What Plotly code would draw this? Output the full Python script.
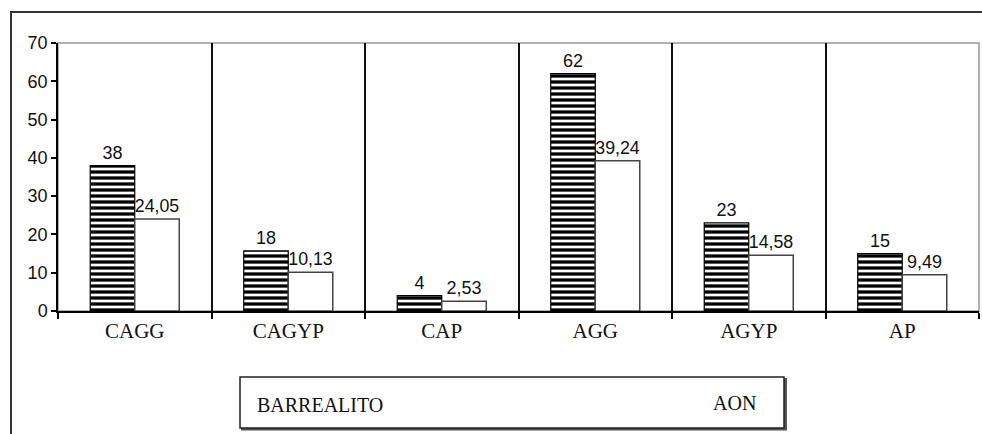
import plotly.graph_objects as go

categories = ["CAGG", "CAGYP", "CAP", "AGG", "AGYP", "AP"]
barrealito_values = [38, 15.7, 4, 62, 23, 15]
barrealito_labels = ["38", "18", "4", "62", "23", "15"]
aon_values = [24.05, 10.13, 2.53, 39.24, 14.58, 9.49]
aon_labels = ["24,05", "10,13", "2,53", "39,24", "14,58", "9,49"]
y_ticks = [0, 10, 20, 30, 40, 50, 60, 70]

W, H = 982, 434
L, R, T, B = 58, 979, 43, 311


def px(x):
    return (x - L) / (R - L)


def py(y):
    return (B - y) / (B - T)


sans = "Liberation Sans"
serif = "Liberation Serif"

fig = go.Figure()
fig.add_trace(go.Bar(
    x=categories, y=barrealito_values, name="BARREALITO",
    text=barrealito_labels, textposition="outside",
    textfont=dict(family=sans, size=18, color="#111"),
    marker=dict(color="white",
                pattern=dict(shape="-", fgcolor="black", bgcolor="white", size=6,
                             solidity=0.55, fgopacity=1),
                line=dict(color="black", width=1.2)),
    cliponaxis=False,
))
fig.add_trace(go.Bar(
    x=categories, y=aon_values, name="AON",
    text=aon_labels, textposition="outside",
    textfont=dict(family=sans, size=18, color="#111"),
    marker=dict(color="white", line=dict(color="#444", width=1.5)),
    cliponaxis=False,
))

shapes = [
    dict(type="rect", xref="paper", yref="paper", x0=0, x1=1, y0=0, y1=1,
         line=dict(color="#999", width=1.5), layer="below"),
    dict(type="rect", xref="paper", yref="paper", x0=px(11), x1=px(990), y0=py(12), y1=py(440),
         line=dict(color="#333", width=2)),
    dict(type="rect", xref="paper", yref="paper", x0=px(242), x1=px(786), y0=py(379), y1=py(429.5),
         line=dict(color="#555", width=2), fillcolor="#555"),
    dict(type="rect", xref="paper", yref="paper", x0=px(240), x1=px(784), y0=py(377), y1=py(428),
         line=dict(color="#222", width=1.5), fillcolor="white"),
]

annotations = [
    dict(text="BARREALITO", xref="paper", yref="paper", x=px(255), y=py(405),
         xanchor="left", yanchor="middle", showarrow=False,
         font=dict(family=serif, size=20, color="#111")),
    dict(text="AON", xref="paper", yref="paper", x=px(734), y=py(403),
         xanchor="center", yanchor="middle", showarrow=False,
         font=dict(family=serif, size=20, color="#111")),
]

fig.update_layout(
    width=W, height=H,
    margin=dict(l=L, r=W - R, t=T, b=H - B, pad=0),
    paper_bgcolor="white", plot_bgcolor="white",
    barmode="group", bargap=0.42, bargroupgap=0,
    showlegend=False,
    shapes=shapes, annotations=annotations,
    xaxis=dict(
        type="category", tickson="boundaries", ticks="outside", ticklen=6,
        tickcolor="black", tickwidth=1.5,
        showgrid=True, gridcolor="#111", gridwidth=1.5,
        showline=True, linecolor="black", linewidth=1.5,
        tickfont=dict(family=serif, size=21, color="#111"),
        range=[-0.5, 5.5],
    ),
    yaxis=dict(
        range=[0, 70], tickvals=y_ticks, ticks="outside", ticklen=5,
        tickcolor="black", tickwidth=1.5,
        showgrid=False, zeroline=False,
        showline=True, linecolor="black", linewidth=1.5,
        tickfont=dict(family=sans, size=18, color="#111"),
    ),
)

fig.write_html("out.html")
